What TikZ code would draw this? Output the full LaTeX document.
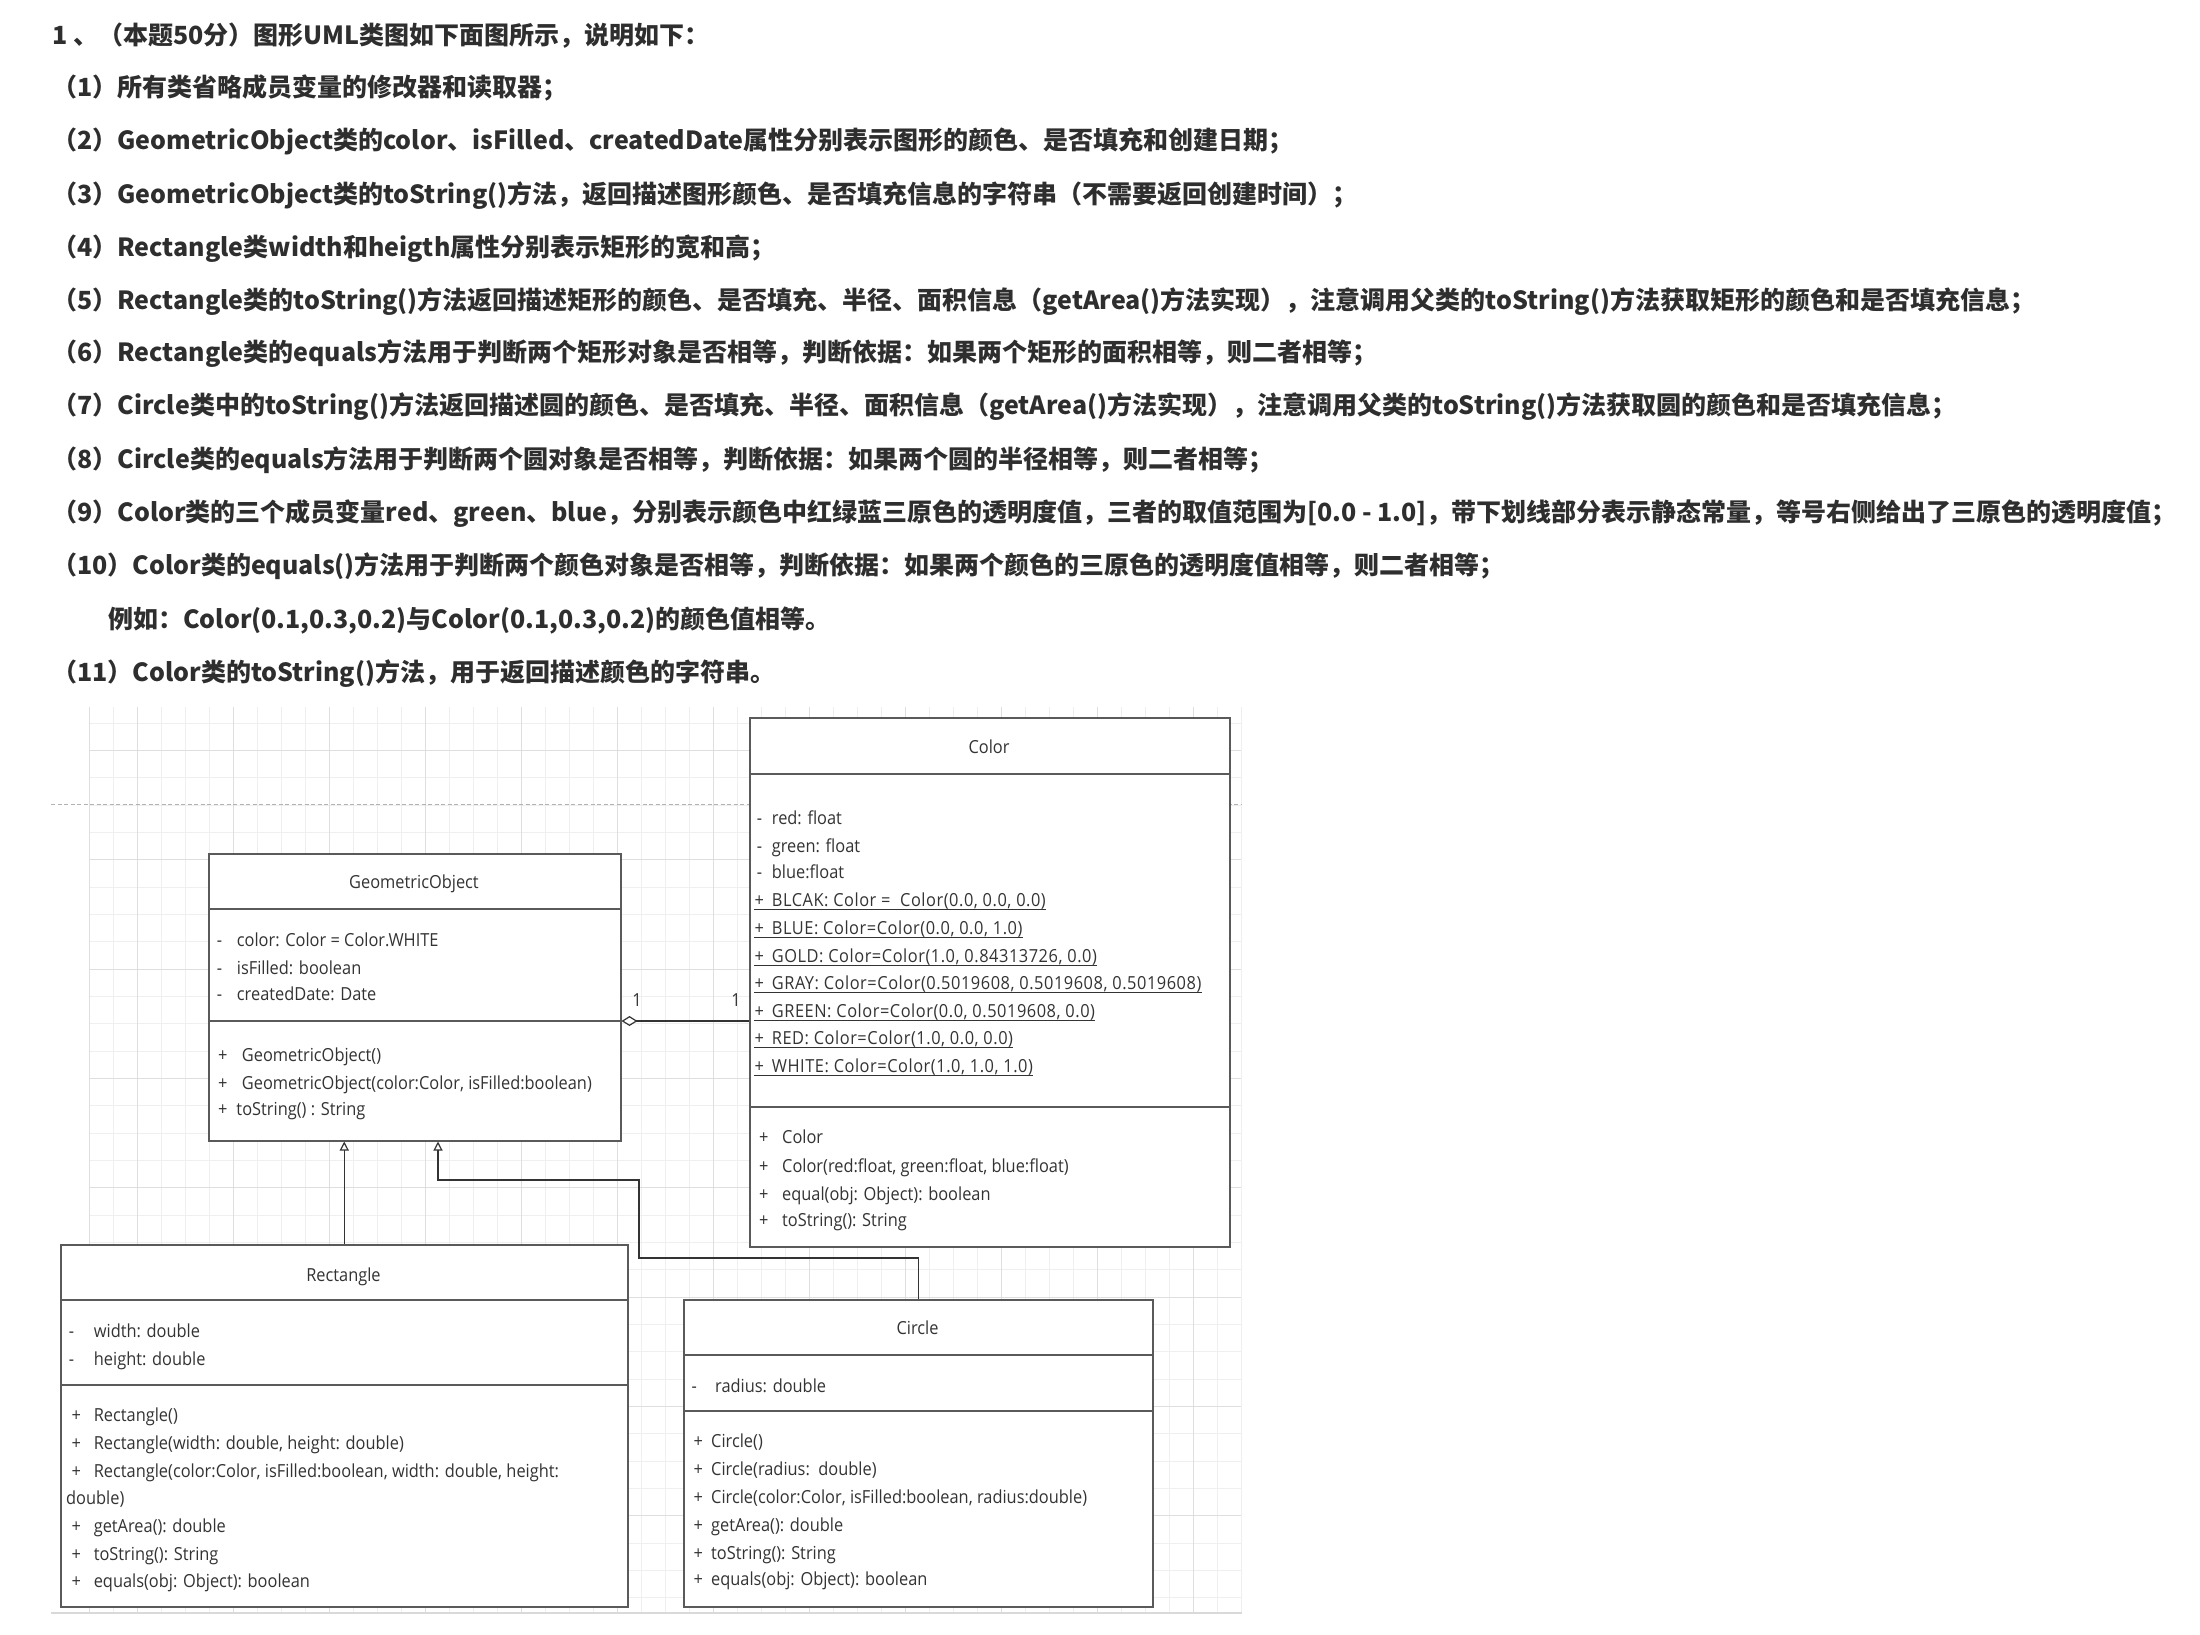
\documentclass[tikz,border=0pt]{standalone}
\usepackage{fontspec}
\usetikzlibrary{arrows.meta}
\newfontfamily\cjkf{Noto Sans CJK SC}
\newfontfamily\umlf[FakeStretch=0.91]{Open Sans}
\newfontfamily\umlsf[FakeStretch=0.91,LetterSpace=3]{Open Sans}
\definecolor{txt}{HTML}{2E2E2E}
\definecolor{umltxt}{HTML}{333333}
\definecolor{gridminor}{HTML}{EFEFEF}
\definecolor{gridmajor}{HTML}{DEDEDE}
\definecolor{boxline}{HTML}{5A5A5A}
\definecolor{linecol}{HTML}{333333}
\newcommand\umlsign[2]{\makebox[#1pt][l]{#2}}
\tikzset{
  toptext/.style={anchor=west, inner sep=0pt, text height=22pt, text depth=4pt, font=\cjkf\bfseries\fontsize{25}{30}\selectfont, text=txt},
  umltext/.style={anchor=west, inner sep=0pt, text height=13pt, text depth=4pt, yshift=-3pt, font=\umlf\fontsize{18}{22}\selectfont, text=umltxt},
  umlstatic/.style={umltext, font=\umlsf\fontsize{18}{22}\selectfont},
  umltitle/.style={umltext, anchor=center},
  classbox/.style={draw=boxline, line width=1.5pt, fill=white, anchor=north west, inner sep=0pt},
  compline/.style={draw=boxline, line width=1.5pt},
  inherit/.style={draw=linecol, line width=1.2pt, -{Triangle[open, length=9pt, width=9pt]}},
  agg/.style={draw=linecol, line width=1.2pt, {Diamond[open, length=16pt, width=10pt]}-},
  ustatic/.style={draw=umltxt, line width=1pt},
}
\begin{document}
\begin{tikzpicture}[x=1pt,y=-1pt]
\useasboundingbox (0,0) rectangle (2200,1634);
\fill[white] (0,0) rectangle (2200,1634);

% ---------- question text ----------
\node[toptext] (t0) at (52,35) {1 、（本题50分）图形UML类图如下面图所示，说明如下：};
\node[toptext] (t1) at (52,87) {（1）所有类省略成员变量的修改器和读取器；};
\node[toptext] (t2) at (52,140) {（2）GeometricObject类的color、isFilled、createdDate属性分别表示图形的颜色、是否填充和创建日期；};
\node[toptext] (t3) at (52,194) {（3）GeometricObject类的toString()方法，返回描述图形颜色、是否填充信息的字符串（不需要返回创建时间）；};
\node[toptext] (t4) at (52,247) {（4）Rectangle类width和heigth属性分别表示矩形的宽和高；};
\node[toptext] (t5) at (52,300) {（5）Rectangle类的toString()方法返回描述矩形的颜色、是否填充、半径、面积信息（getArea()方法实现），注意调用父类的toString()方法获取矩形的颜色和是否填充信息；};
\node[toptext] (t6) at (52,352) {（6）Rectangle类的equals方法用于判断两个矩形对象是否相等，判断依据：如果两个矩形的面积相等，则二者相等；};
\node[toptext] (t7) at (52,405.5) {（7）Circle类中的toString()方法返回描述圆的颜色、是否填充、半径、面积信息（getArea()方法实现），注意调用父类的toString()方法获取圆的颜色和是否填充信息；};
\node[toptext] (t8) at (52,459) {（8）Circle类的equals方法用于判断两个圆对象是否相等，判断依据：如果两个圆的半径相等，则二者相等；};
\node[toptext] (t9) at (52,512) {（9）Color类的三个成员变量red、green、blue，分别表示颜色中红绿蓝三原色的透明度值，三者的取值范围为[0.0 - 1.0]，带下划线部分表示静态常量，等号右侧给出了三原色的透明度值；};
\node[toptext] (t10) at (52,565) {（10）Color类的equals()方法用于判断两个颜色对象是否相等，判断依据：如果两个颜色的三原色的透明度值相等，则二者相等；};
\node[toptext] (t11) at (108,619) {例如：Color(0.1,0.3,0.2)与Color(0.1,0.3,0.2)的颜色值相等。};
\node[toptext] (t12) at (52,672) {（11）Color类的toString()方法，用于返回描述颜色的字符串。};

% ---------- grid ----------
\foreach \k in {0,...,48} \draw[gridminor, line width=1pt] ({89+24*\k},707) -- ({89+24*\k},1613);
\foreach \k in {0,...,32} \draw[gridminor, line width=1pt] (89,{723.3+27.33*\k}) -- (1241,{723.3+27.33*\k});
\foreach \k in {2,6,...,46} \draw[gridmajor, line width=1pt] ({89+24*\k},707) -- ({89+24*\k},1613);
\foreach \k in {1,5,...,29} \draw[gridmajor, line width=1pt] (89,{723.3+27.33*\k}) -- (1241,{723.3+27.33*\k});
\draw[gridmajor, line width=1pt] (89,707) -- (89,1613);
\draw[color=black!30, line width=1pt, dash pattern=on 4pt off 2.5pt] (51,804) -- (1242,804);
\draw[color=black!15, line width=1.2pt] (51,1613) -- (1242,1613);

% ---------- class boxes ----------
\node[classbox, minimum width=412pt, minimum height=287pt] (geo) at (208,853) {};
\node[classbox, minimum width=480pt, minimum height=529pt] (color) at (749,717) {};
\node[classbox, minimum width=567pt, minimum height=362pt] (rect) at (60,1244) {};
\node[classbox, minimum width=469pt, minimum height=307pt] (circ) at (683,1299) {};

\draw[compline] ([yshift=-56pt]geo.north west) -- ([yshift=-56pt]geo.north east);
\draw[compline] ([yshift=-168pt]geo.north west) -- ([yshift=-168pt]geo.north east);
\draw[compline] ([yshift=-57pt]color.north west) -- ([yshift=-57pt]color.north east);
\draw[compline] ([yshift=-390pt]color.north west) -- ([yshift=-390pt]color.north east);
\draw[compline] ([yshift=-56pt]rect.north west) -- ([yshift=-56pt]rect.north east);
\draw[compline] ([yshift=-141pt]rect.north west) -- ([yshift=-141pt]rect.north east);
\draw[compline] ([yshift=-56pt]circ.north west) -- ([yshift=-56pt]circ.north east);
\draw[compline] ([yshift=-112pt]circ.north west) -- ([yshift=-112pt]circ.north east);

% GeometricObject
\node[umltitle] (geoT) at (414,881) {GeometricObject};
\node[umltext] (g1) at (216.7,938.6) {\umlsign{20}{-}color: Color = Color.WHITE};
\node[umltext] (g2) at (216.7,966.7) {\umlsign{20}{-}isFilled: boolean};
\node[umltext] (g3) at (216.7,993.3) {\umlsign{20}{-}createdDate: Date};
\node[umltext] (g4) at (218,1053.7) {\umlsign{23.7}{+}GeometricObject()};
\node[umltext] (g5) at (218,1081.7) {\umlsign{23.7}{+}GeometricObject(color:Color, isFilled:boolean)};
\node[umltext] (g6) at (218,1108.4) {\umlsign{18.3}{+}toString() : String};

% Color
\node[umltitle] (colT) at (989,746) {Color};
\node[umltext] (c1) at (756.7,816.6) {\umlsign{15}{-}red: float};
\node[umltext] (c2) at (756.7,844.6) {\umlsign{15}{-}green: float};
\node[umltext] (c3) at (756.7,871) {\umlsign{15}{-}blue:float};
\node[umlstatic] (c4) at (754.3,899) {\umlsign{17.4}{+}BLCAK: Color = \ Color(0.0, 0.0, 0.0)};
\node[umlstatic] (c5) at (754.3,927) {\umlsign{17.4}{+}BLUE: Color=Color(0.0, 0.0, 1.0)};
\node[umlstatic] (c6) at (754.3,955) {\umlsign{17.4}{+}GOLD: Color=Color(1.0, 0.84313726, 0.0)};
\node[umlstatic] (c7) at (754.3,982) {\umlsign{17.4}{+}GRAY: Color=Color(0.5019608, 0.5019608, 0.5019608)};
\node[umlstatic] (c8) at (754.3,1010) {\umlsign{17.4}{+}GREEN: Color=Color(0.0, 0.5019608, 0.0)};
\node[umlstatic] (c9) at (754.3,1037) {\umlsign{17.4}{+}RED: Color=Color(1.0, 0.0, 0.0)};
\node[umlstatic] (c10) at (754.3,1065) {\umlsign{17.4}{+}WHITE: Color=Color(1.0, 1.0, 1.0)};
\foreach \n in {c4,c5,c6,c7,c8,c9,c10}
  \draw[ustatic] ([yshift=-3pt]\n.base west) -- ([yshift=-3pt]\n.base east);
\node[umltext] (c11) at (759,1136) {\umlsign{23}{+}Color};
\node[umltext] (c12) at (759,1164.5) {\umlsign{23}{+}Color(red:float, green:float, blue:float)};
\node[umltext] (c13) at (759,1192.5) {\umlsign{23}{+}equal(obj: Object): boolean};
\node[umltext] (c14) at (759,1219) {\umlsign{23}{+}toString(): String};

% Rectangle
\node[umltitle] (recT) at (343.5,1274) {Rectangle};
\node[umltext] (r1) at (68.7,1330) {\umlsign{25}{-}width: double};
\node[umltext] (r2) at (68.7,1358) {\umlsign{25}{-}height: double};
\node[umltext] (r3) at (71.4,1414) {\umlsign{22.2}{+}Rectangle()};
\node[umltext] (r4) at (71.4,1442) {\umlsign{22.2}{+}Rectangle(width: double, height: double)};
\node[umltext] (r5) at (71.4,1470) {\umlsign{22.2}{+}Rectangle(color:Color, isFilled:boolean, width: double, height:};
\node[umltext] (r6) at (66,1497) {double)};
\node[umltext] (r7) at (71.4,1525) {\umlsign{22.2}{+}getArea(): double};
\node[umltext] (r8) at (71.4,1553) {\umlsign{22.2}{+}toString(): String};
\node[umltext] (r9) at (71.4,1580) {\umlsign{22.2}{+}equals(obj: Object): boolean};

% Circle
\node[umltitle] (cirT) at (917.5,1327) {Circle};
\node[umltext] (k1) at (691.4,1385) {\umlsign{23.6}{-}radius: double};
\node[umltext] (k2) at (693.4,1440) {\umlsign{17.6}{+}Circle()};
\node[umltext] (k3) at (693.4,1467.5) {\umlsign{17.6}{+}Circle(radius:\ \ double)};
\node[umltext] (k4) at (693.4,1495.6) {\umlsign{17.6}{+}Circle(color:Color, isFilled:boolean, radius:double)};
\node[umltext] (k5) at (693.4,1523.7) {\umlsign{17.6}{+}getArea(): double};
\node[umltext] (k6) at (693.4,1551.7) {\umlsign{17.6}{+}toString(): String};
\node[umltext] (k7) at (693.4,1578) {\umlsign{17.6}{+}equals(obj: Object): boolean};

% ---------- connectors ----------
\coordinate (gsep) at ([yshift=-168pt]geo.north east);
\draw[agg] (gsep) -- (gsep -| color.west);
\node[umltitle] (m1) at (637,999) {1};
\node[umltitle] (m2) at (736,999) {1};

\draw[inherit] (rect.north) -- (rect.north |- geo.south);
\coordinate (j1) at (639,1258);
\coordinate (j2) at (438,1180);
\draw[inherit] (circ.north) |- (j1) |- (j2) -- (j2 |- geo.south);
\end{tikzpicture}
\end{document}
